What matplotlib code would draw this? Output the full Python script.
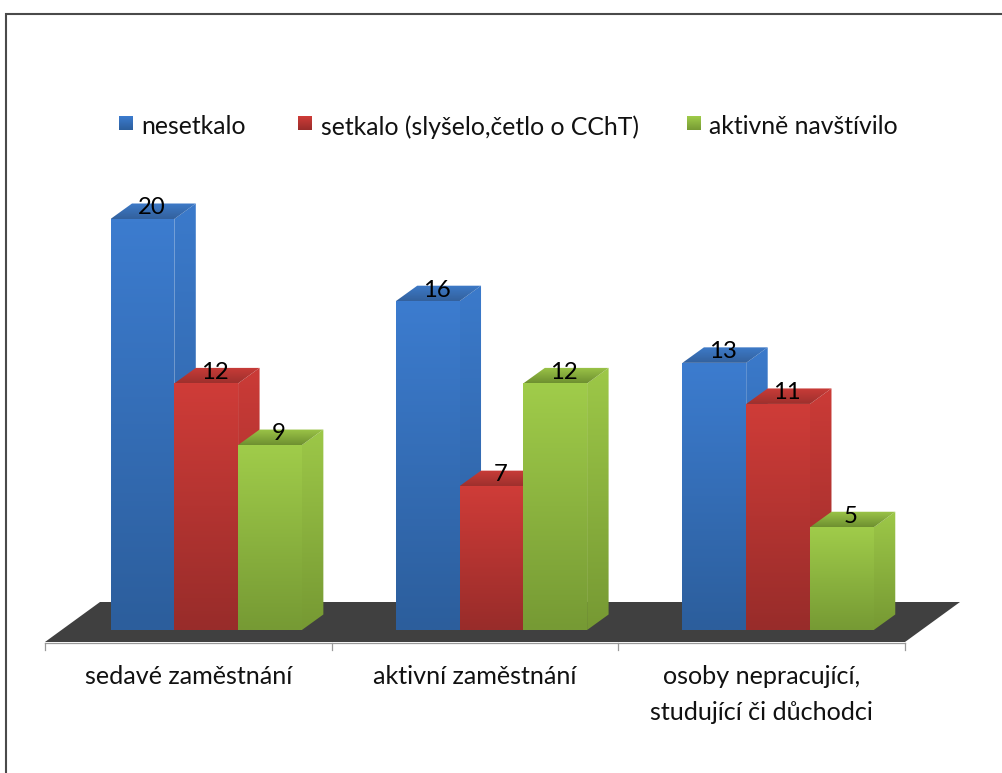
import matplotlib
matplotlib.use("Agg")
import matplotlib.pyplot as plt
import numpy as np
from matplotlib.patches import Polygon
from matplotlib.colors import LinearSegmentedColormap

plt.rcParams['font.family'] = ['Lato', 'DejaVu Sans']

categories = ["sedavé zaměstnání", "aktivní zaměstnání", "osoby nepracující,\nstudující či důchodci"]
series_names = ["nesetkalo", "setkalo (slyšelo,četlo o CChT)", "aktivně navštívilo"]
nesetkalo = [20, 16, 13]
setkalo = [12, 7, 11]
navstivilo = [9, 12, 5]
series_values = [nesetkalo, setkalo, navstivilo]

front_top = ["#3C7CCF", "#CF3C38", "#A0CC4A"]
front_bot = ["#2C5E9C", "#982C2A", "#769A34"]
side_top = ["#3B7ACB", "#CB3B37", "#9DC848"]
side_bot = ["#2C5D9A", "#972C2A", "#769933"]
top_front = ["#33619D", "#9E302D", "#6E9030"]
top_back = ["#3D7AC8", "#C93C38", "#9CC548"]

PX_X = 286.67
PX_Y = 20.55
W, H = 1002, 773
BAR_W = 0.2225
BAR_START = [0.2285, 0.2235, 0.2235]
DEPTH_X = 21.5 / PX_X
DEPTH_Y = 15.5 / PX_Y

fig = plt.figure(figsize=(W / 100, H / 100), dpi=100)
fig.patch.set_facecolor("white")
ax = fig.add_axes([0, 0, 1, 1])
ax.set_xlim(-45 / PX_X, (W - 45) / PX_X)
ax.set_ylim(-(H - 630) / PX_Y, 630 / PX_Y)
ax.axis("off")


def px(x, y):
    """Convert figure pixels (origin top-left) to data coordinates."""
    return (x - 45) / PX_X, (630 - y) / PX_Y


def gradient_poly(points, c_top, c_bot, zorder):
    pts = np.array(points)
    poly = Polygon(pts, closed=True, facecolor="none", edgecolor="none", zorder=zorder)
    ax.add_patch(poly)
    cmap = LinearSegmentedColormap.from_list("g", [c_top, c_bot])
    im = ax.imshow(np.linspace(0, 1, 128).reshape(-1, 1), cmap=cmap, aspect="auto",
                   extent=[pts[:, 0].min(), pts[:, 0].max(), pts[:, 1].min(), pts[:, 1].max()],
                   origin="upper", zorder=zorder, interpolation="bilinear")
    im.set_clip_path(poly)
    ax.set_xlim(-45 / PX_X, (W - 45) / PX_X)
    ax.set_ylim(-(H - 630) / PX_Y, 630 / PX_Y)


# Chart frame
frame_col = "#4A4A4A"
ax.plot(*zip(px(5.5, 773), px(5.5, 14), px(1002, 14)), color=frame_col, lw=1.5, zorder=1,
        solid_joinstyle="miter")

# Floor
floor = [px(45, 642), px(100, 602), px(960, 602), px(905, 642)]
ax.add_patch(Polygon(floor, closed=True, facecolor="#404040", edgecolor="none", zorder=2))

# Category axis line and ticks
axis_y = px(0, 642.5)[1]
tick_y = px(0, 650)[1]
ax.plot([0, 3], [axis_y, axis_y], color="#999999", lw=0.9, zorder=3)
for k in range(4):
    ax.plot([k, k], [axis_y, tick_y], color="#999999", lw=0.9, zorder=3)

# Bars, back-to-front within each group
z = 4
for c in range(len(categories)):
    for s, vals in enumerate(series_values):
        v = vals[c]
        x0 = c + BAR_START[c] + s * BAR_W
        x1 = x0 + BAR_W
        bx, by = DEPTH_X, DEPTH_Y
        gradient_poly([(x1, 0), (x1, v), (x1 + bx, v + by), (x1 + bx, by)],
                      side_top[s], side_bot[s], z)
        gradient_poly([(x0, v), (x1, v), (x1 + bx, v + by), (x0 + bx, v + by)],
                      top_back[s], top_front[s], z + 0.1)
        gradient_poly([(x0, 0), (x0, v), (x1, v), (x1, 0)],
                      front_top[s], front_bot[s], z + 0.2)
        ax.text(x0 + BAR_W / 2 + bx * 0.42, v + by * 0.72, str(v), ha="center", va="center",
                fontsize=17.2, color="black", zorder=50)
        z += 1

# Category labels
for c, name in enumerate(categories):
    ax.text(c + 0.5, px(0, 665.5)[1], name, ha="center", va="top", fontsize=18.1,
            color="#111111", linespacing=1.65, zorder=50)

# Legend
legend_y = px(0, 127)[1]
marker_x = [119, 298, 687]
label_x = [141, 321, 709]
for s, name in enumerate(series_names):
    mx0 = px(marker_x[s], 0)[0]
    mx1 = px(marker_x[s] + 14, 0)[0]
    y0 = px(0, 116)[1]
    y1 = px(0, 130)[1]
    gradient_poly([(mx0, y1), (mx0, y0), (mx1, y0), (mx1, y1)], front_top[s], front_bot[s], 60)
    ax.text(px(label_x[s], 0)[0], legend_y, name, ha="left", va="center", fontsize=17.8,
            color="#111111", zorder=60)

fig.savefig("out.png", dpi=100)
